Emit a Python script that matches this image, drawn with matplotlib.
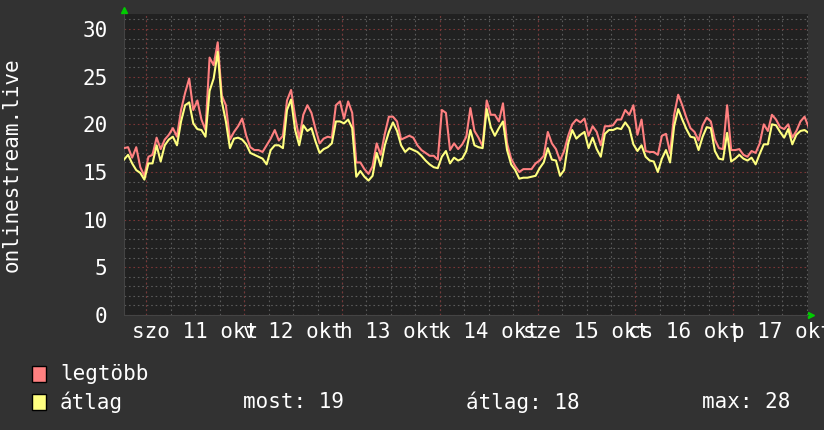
import numpy as np
import matplotlib
matplotlib.use('Agg')
import matplotlib.pyplot as plt
from matplotlib.ticker import MultipleLocator
from matplotlib.patches import Rectangle

plt.rcParams['font.family'] = 'DejaVu Sans Mono'

## Adatok: óránkénti értékek, kezdet okt 10 18:30 (órák okt 11 00:00-tól)
kezdo_ora = -5.5

legtobb = [17.5, 17.6, 16.5, 17.6, 15.5, 14.6, 16.6, 16.8, 18.6, 17.4,
           18.4, 18.9, 19.6, 18.7, 21.5, 23.3, 24.8, 21.5, 22.5, 20.5,
           19.4, 27.0, 26.2, 28.6, 23.0, 22.0, 18.4, 19.2, 19.8, 20.6,
           18.8, 17.6, 17.3, 17.3, 17.1, 17.8, 18.5, 19.4, 18.3, 18.8,
           22.5, 23.6, 20.8, 18.5, 21.0, 22.0, 21.2, 19.5, 18.0, 18.5,
           18.7, 18.6, 22.0, 22.4, 20.6, 22.4, 21.2, 16.0, 16.0, 15.3,
           14.8, 15.6, 18.0, 16.8, 19.0, 20.8, 20.8, 20.3, 18.4, 18.6,
           18.8, 18.6, 17.8, 17.3, 17.0, 16.7, 16.7, 16.3, 21.5, 21.2,
           17.3, 18.0, 17.4, 17.9, 18.7, 21.7, 19.3, 18.6, 17.7, 22.5,
           21.0, 21.0, 20.3, 22.2, 18.0, 16.4, 15.6, 15.0, 15.3, 15.3,
           15.3, 15.9, 16.2, 16.7, 19.2, 18.0, 17.4, 16.2, 17.2, 18.8,
           20.0, 20.5, 20.2, 20.6, 18.8, 19.8, 19.2, 17.8, 19.8, 19.8,
           19.9, 20.5, 20.5, 21.5, 21.0, 22.0, 18.9, 20.5, 17.2, 17.1,
           17.1, 16.8, 18.8, 19.0, 17.0, 21.0, 23.1, 22.0, 20.7, 19.6,
           19.2, 18.3, 19.9, 20.7, 20.3, 18.4, 17.5, 17.4, 22.0, 17.3,
           17.3, 17.4, 16.8, 16.6, 17.2, 17.0, 18.0, 20.0, 19.3, 21.0,
           20.5, 19.7, 19.5, 20.0, 18.6, 19.3, 20.3, 20.8, 19.7]

atlag = [16.3, 16.8, 15.9, 15.2, 14.9, 14.2, 15.9, 15.9, 17.8, 16.1,
         17.8, 18.4, 18.7, 17.8, 20.3, 22.0, 22.3, 20.1, 19.5, 19.4,
         18.7, 23.5, 24.8, 27.6, 22.4, 20.3, 17.5, 18.5, 18.6, 18.4,
         17.9, 17.0, 16.8, 16.6, 16.4, 15.8, 17.3, 17.8, 17.8, 17.5,
         21.5, 22.6, 19.4, 17.8, 19.9, 19.3, 19.6, 18.2, 17.0, 17.4,
         17.6, 18.0, 20.3, 20.3, 20.1, 20.5, 19.6, 14.5, 15.1, 14.5,
         14.1, 14.6, 17.0, 15.6, 17.8, 19.2, 20.2, 19.3, 17.8, 17.1,
         17.5, 17.3, 17.1, 16.7, 16.2, 15.8, 15.5, 15.4, 16.6, 17.2,
         15.9, 16.5, 16.2, 16.4, 17.2, 19.4, 17.8, 17.6, 17.5, 21.6,
         19.7, 18.8, 19.6, 20.3, 17.3, 15.8, 15.2, 14.3, 14.4, 14.4,
         14.5, 14.6, 15.4, 16.0, 17.5, 16.3, 16.2, 14.6, 15.2, 18.0,
         19.4, 18.5, 18.9, 19.2, 17.5, 18.6, 17.4, 16.6, 19.0, 19.4,
         19.4, 19.6, 19.5, 20.2, 19.6, 17.9, 17.2, 17.8, 16.6, 16.2,
         16.1, 15.0, 16.4, 17.3, 16.0, 19.8, 21.6, 20.5, 19.5, 18.7,
         18.6, 17.3, 18.7, 19.7, 19.6, 17.2, 16.4, 16.3, 19.1, 16.1,
         16.4, 16.8, 16.4, 16.2, 16.5, 15.8, 16.9, 17.9, 17.9, 20.0,
         19.9, 19.2, 18.6, 19.5, 17.9, 18.9, 19.3, 19.4, 19.1]

napok = ['szo 11 okt', 'v 12 okt', 'h 13 okt', 'k 14 okt',
         'sze 15 okt', 'cs 16 okt', 'p 17 okt']

## Ábra
W, H = 824, 430
fig = plt.figure(figsize=(W / 100, H / 100), dpi=100, facecolor='#323232')
ax = fig.add_axes([124 / W, 115 / H, 684 / W, 301 / H])
ax.set_facecolor('#212121')

orak = kezdo_ora + np.arange(len(atlag))
ax.plot(orak, legtobb, color='#ff8080', lw=1.5, zorder=3)
ax.plot(orak, atlag, color='#ffff80', lw=1.5, zorder=4)

ax.set_xlim(-5.5, 162.35)
ax.set_ylim(0, 31.57)

# rács
pont = (0, (1.5, 2.5))
ax.yaxis.set_major_locator(MultipleLocator(5))
ax.yaxis.set_minor_locator(MultipleLocator(1))
ax.xaxis.remove_overlapping_locs = False
ax.set_xticks([24 * i + 12 for i in range(len(napok))], napok)
ax.xaxis.set_minor_locator(MultipleLocator(6))
ax.grid(which='minor', color='#5a5a5a', ls=pont, lw=0.8)
ax.grid(which='major', axis='y', color='#7a3636', ls=pont, lw=0.8)
for i in range(len(napok)):
    ax.axvline(24 * i, color='#7a3636', ls=pont, lw=0.8, zorder=1)
ax.set_axisbelow(True)

ax.tick_params(which='both', length=0, colors='white', labelsize=15)
ax.tick_params(axis='y', pad=12)
ax.tick_params(axis='x', pad=5)

for s in ['top', 'right']:
    ax.spines[s].set_visible(False)
for s in ['left', 'bottom']:
    ax.spines[s].set_color('#444444')

# zöld nyilak
ax.plot([0], [1.013], marker='^', color='#00cc00', ms=4, transform=ax.transAxes, clip_on=False)
ax.plot([1.004], [0], marker='>', color='#00cc00', ms=4, transform=ax.transAxes, clip_on=False)

fig.text(12 / W, 1 - 164.5 / H, 'onlinestream.live', rotation=90, color='white',
         fontsize=15, ha='center', va='center')

## Jelmagyarázat
def jel(y, szin):
    fig.patches.append(Rectangle((32 / W, 1 - (y + 8) / H), 14 / W, 16 / H,
                                 transform=fig.transFigure, facecolor=szin,
                                 edgecolor='black', lw=1))

jel(374, '#ff8080')
fig.text(60 / W, 1 - 374 / H, 'legtöbb', color='white', fontsize=15, va='center')
jel(402, '#ffff80')
fig.text(60 / W, 1 - 402 / H, 'átlag', color='white', fontsize=15, va='center')
fig.text(243 / W, 1 - 402 / H, 'most: %d' % round(atlag[-1]), color='white', fontsize=15, va='center')
fig.text(466 / W, 1 - 402 / H, 'átlag: %d' % round(np.mean(atlag)), color='white', fontsize=15, va='center')
fig.text(702 / W, 1 - 402 / H, 'max: %d' % round(max(atlag)), color='white', fontsize=15, va='center')

fig.savefig('out.png', dpi=100, facecolor=fig.get_facecolor())
